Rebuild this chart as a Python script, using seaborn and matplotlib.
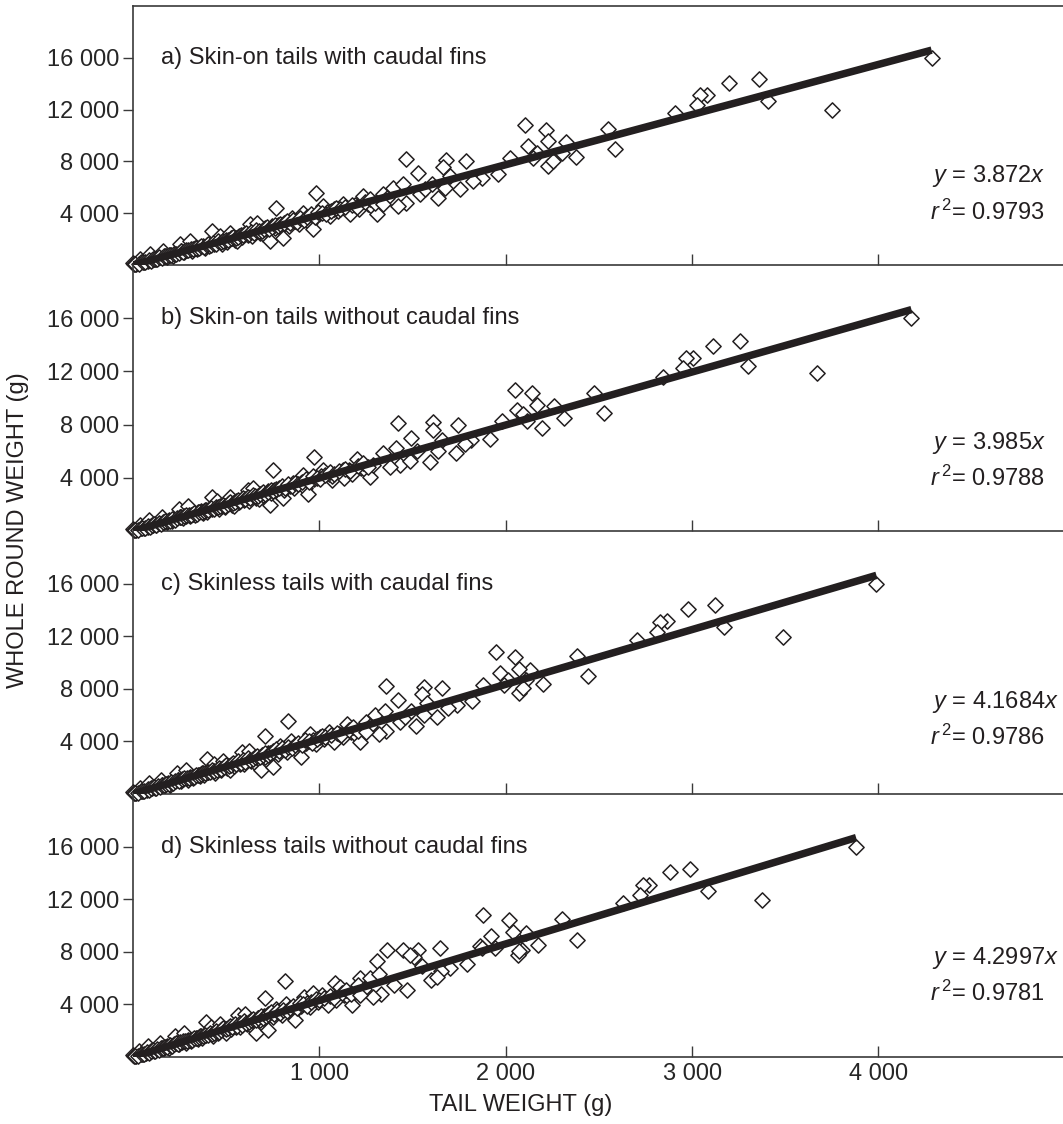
import numpy as np
import pandas as pd
import matplotlib
matplotlib.use("Agg")
import matplotlib.pyplot as plt
from matplotlib.ticker import FixedLocator, FuncFormatter
import seaborn as sns

# ---------------- data ----------------
panel_titles = ["a) Skin-on tails with caudal fins",
                "b) Skin-on tails without caudal fins",
                "c) Skinless tails with caudal fins",
                "d) Skinless tails without caudal fins"]
slopes = [3.872, 3.985, 4.1684, 4.2997]
slope_text = ["3.872", "3.985", "4.1684", "4.2997"]
r2_text = ["0.9793", "0.9788", "0.9786", "0.9781"]
x_ticks = [1000, 2000, 3000, 4000]
y_ticks = [4000, 8000, 12000, 16000]

# dense band near the origin (tail weight, whole weight)
low_a = [(0, 150), (15, 90), (25, 160), (38, 470), (45, 210), (60, 260), (70, 330), (80, 300), (91, 850),
         (100, 400), (110, 480), (125, 430), (135, 560), (150, 620), (161, 1090), (170, 700), (185, 650),
         (200, 800), (215, 720), (225, 900), (240, 1000), (252, 1630), (260, 1060), (275, 980), (290, 1150),
         (306, 1860), (315, 1100), (330, 1300), (345, 1200), (360, 1400), (375, 1480), (385, 1350),
         (400, 1560), (410, 1450), (424, 2640), (435, 1650), (450, 1750), (466, 2250), (475, 1620),
         (490, 1900), (505, 1800), (520, 2480), (530, 2100), (545, 1950), (557, 1860), (570, 2250),
         (585, 2150), (600, 2400), (615, 2300), (627, 3180), (640, 2250), (655, 2600), (665, 3260),
         (680, 2500), (697, 2400), (710, 2850), (720, 2700), (735, 1860), (745, 3000), (760, 2850),
         (767, 4420), (780, 3100), (795, 2950), (804, 2090), (820, 3300), (835, 3050), (853, 3640),
         (870, 3400), (890, 3200), (912, 4030), (930, 3600), (949, 3260), (965, 2790), (981, 5580),
         (1000, 3900), (1019, 4570), (1040, 4100), (1056, 3800), (1080, 4300), (1100, 4150),
         (1126, 4730), (1150, 4400), (1164, 3950), (1190, 4600), (1210, 4300), (1233, 5350),
         (1260, 4700), (1285, 4500), (1308, 3950), (1325, 5000), (1340, 5500)]
band_a = [(5, 40), (12, 60), (30, 110), (52, 240), (65, 220), (85, 360), (95, 330), (105, 440), (118, 500),
          (130, 470), (142, 600), (155, 560), (165, 660), (178, 720), (192, 780), (205, 760), (218, 880),
          (230, 860), (245, 960), (258, 1080), (268, 1020), (282, 1120), (296, 1180), (310, 1240),
          (322, 1200), (338, 1330), (352, 1300), (366, 1450), (380, 1420), (395, 1520), (405, 1600),
          (418, 1580), (430, 1700), (445, 1640), (458, 1820), (470, 1780), (483, 1850), (498, 1960),
          (510, 1900), (525, 2050), (538, 2200), (552, 2100), (565, 2180), (578, 2350), (592, 2280),
          (606, 2500), (620, 2380), (635, 2550), (648, 2450), (662, 2700), (676, 2600), (690, 2650),
          (705, 2780), (718, 2900), (732, 2800), (748, 2950), (762, 3100), (776, 3000), (790, 3150),
          (808, 3250), (826, 3400), (842, 3250), (860, 3500), (878, 3350), (895, 3600), (915, 3500),
          (935, 3700), (955, 3900), (975, 3700), (995, 4100), (1015, 4000), (1035, 3900), (1060, 4200),
          (1090, 4400), (1110, 4300), (1140, 4500), (1175, 4650), (1200, 4500), (1245, 4900),
          (1270, 5100), (1300, 4800)]
high_a = [(4285, 15970), (3750, 11950), (3405, 12650), (3360, 14400), (3200, 14050), (3078, 13100),
          (3040, 13100), (3024, 12330), (2906, 11700), (2547, 10470), (2584, 8990), (2375, 8370),
          (2322, 9460), (2300, 8680), (2225, 7670), (2252, 8060), (2214, 10390), (2225, 9540),
          (2102, 10780), (2118, 9220), (2166, 8680), (2145, 8300), (2021, 8300), (1957, 7050),
          (1871, 6740), (1823, 6510), (1786, 8060), (1753, 5890), (1678, 8140), (1662, 7600),
          (1700, 6900), (1673, 5970), (1635, 5190), (1528, 7130), (1464, 8220), (1394, 5970),
          (1448, 6280), (1464, 4810), (1421, 4570), (1539, 5500), (1566, 5890), (1603, 6280),
          (1362, 5190), (1340, 4730)]

low_b = [(0, 150), (15, 90), (25, 160), (37, 470), (45, 210), (58, 260), (68, 330), (78, 300), (88, 850),
         (97, 400), (107, 480), (121, 430), (131, 560), (146, 620), (157, 1090), (165, 700), (180, 650),
         (194, 800), (209, 720), (219, 900), (233, 1000), (245, 1630), (253, 1060), (267, 980), (282, 1150),
         (297, 1860), (306, 1100), (321, 1300), (335, 1200), (350, 1400), (364, 1480), (374, 1350),
         (389, 1560), (398, 1450), (424, 2540), (423, 1650), (437, 1750), (453, 2250), (462, 1620),
         (476, 1900), (491, 1800), (520, 2540), (515, 2100), (530, 1950), (541, 1860), (554, 2250),
         (568, 2150), (583, 2400), (598, 2300), (617, 3060), (622, 2250), (637, 2600), (646, 3260),
         (661, 2500), (677, 2400), (690, 2850), (700, 2700), (735, 1940), (724, 3000), (738, 2850),
         (751, 4550), (758, 3100), (772, 2950), (804, 2460), (797, 3300), (811, 3050), (858, 3580),
         (845, 3400), (865, 3200), (912, 4180), (904, 3600), (922, 3260), (938, 2790), (970, 5600),
         (972, 3900), (1019, 4550), (1011, 4100), (1067, 3810), (1050, 4300), (1069, 4150),
         (1126, 4550), (1118, 4400), (1131, 3950), (1157, 4600), (1176, 4300), (1201, 5450),
         (1225, 4700), (1249, 4500), (1271, 4030), (1288, 5000), (1340, 5900)]
band_b = [(5, 40), (12, 60), (29, 110), (50, 240), (63, 220), (82, 360), (92, 330), (102, 440), (114, 500),
          (126, 470), (138, 600), (150, 560), (160, 660), (173, 720), (186, 780), (199, 760), (211, 880),
          (223, 860), (238, 960), (250, 1080), (260, 1020), (274, 1120), (287, 1180), (301, 1240),
          (312, 1200), (328, 1330), (341, 1300), (355, 1450), (369, 1420), (383, 1520), (393, 1600),
          (405, 1580), (417, 1700), (432, 1640), (444, 1820), (456, 1780), (469, 1850), (483, 1960),
          (495, 1900), (509, 2050), (522, 2200), (535, 2100), (548, 2180), (561, 2350), (574, 2280),
          (588, 2500), (601, 2380), (616, 2550), (629, 2450), (642, 2700), (656, 2600), (669, 2650),
          (684, 2780), (696, 2900), (710, 2800), (726, 2950), (739, 3100), (753, 3000), (766, 3150),
          (784, 3250), (801, 3400), (817, 3250), (834, 3500), (852, 3350), (868, 3600), (888, 3500),
          (907, 3700), (926, 3900), (946, 3700), (965, 4100), (985, 4000), (1004, 3900), (1028, 4200),
          (1057, 4400), (1077, 4300), (1106, 4500), (1140, 4650), (1164, 4500), (1208, 4900),
          (1232, 5100), (1261, 4800)]
high_b = [(4177, 16000), (3668, 11870), (3298, 12390), (3255, 14250), (3110, 13880), (3003, 12990),
          (2965, 12990), (2949, 12240), (2842, 11570), (2472, 10370), (2525, 8880), (2311, 8510),
          (2257, 9400), (2193, 7760), (2166, 9480), (2139, 10370), (2048, 10600), (2059, 9100),
          (2091, 8810), (2113, 8280), (1979, 8280), (1914, 6940), (1812, 6870), (1780, 6570),
          (1743, 7990), (1732, 5900), (1609, 8210), (1609, 7610), (1657, 6870), (1635, 6040),
          (1592, 5220), (1490, 7010), (1421, 8130), (1410, 6270), (1432, 4930), (1378, 4780),
          (1523, 6040), (1485, 5300)]

low_c = [(0, 150), (14, 90), (23, 160), (35, 470), (42, 210), (56, 260), (65, 330), (74, 300), (85, 850),
         (93, 400), (102, 480), (116, 430), (126, 560), (140, 620), (150, 1090), (158, 700), (172, 650),
         (186, 800), (200, 720), (209, 900), (223, 1000), (235, 1630), (242, 1060), (256, 980), (270, 1150),
         (285, 1860), (293, 1100), (307, 1300), (321, 1200), (335, 1400), (349, 1480), (358, 1350),
         (372, 1560), (381, 1450), (395, 2640), (405, 1650), (419, 1750), (435, 2250), (442, 1620),
         (456, 1900), (470, 1800), (485, 2480), (493, 2100), (507, 1950), (520, 1860), (530, 2250),
         (544, 2150), (558, 2400), (572, 2300), (585, 3180), (595, 2250), (609, 2600), (620, 3260),
         (632, 2500), (650, 2400), (660, 2850), (670, 2700), (685, 1860), (693, 3000), (707, 2850),
         (710, 4420), (725, 3100), (739, 2950), (750, 2090), (763, 3300), (777, 3050), (790, 3640),
         (809, 3400), (828, 3200), (850, 4030), (865, 3600), (880, 3260), (900, 2790), (830, 5580),
         (930, 3900), (950, 4570), (967, 4100), (980, 3800), (1004, 4300), (1023, 4150),
         (1050, 4730), (1070, 4400), (1080, 3950), (1107, 4600), (1125, 4300), (1150, 5350),
         (1172, 4700), (1195, 4500), (1220, 3950), (1232, 5000), (1250, 5500)]
band_c = [(5, 40), (11, 60), (28, 110), (48, 240), (60, 220), (79, 360), (88, 330), (98, 440), (110, 500),
          (121, 470), (132, 600), (144, 560), (153, 660), (166, 720), (179, 780), (191, 760), (203, 880),
          (214, 860), (228, 960), (240, 1080), (249, 1020), (262, 1120), (275, 1180), (288, 1240),
          (299, 1200), (314, 1330), (327, 1300), (340, 1450), (353, 1420), (367, 1520), (377, 1600),
          (389, 1580), (400, 1700), (414, 1640), (426, 1820), (437, 1780), (449, 1850), (463, 1960),
          (474, 1900), (488, 2050), (500, 2200), (513, 2100), (525, 2180), (538, 2350), (551, 2280),
          (564, 2500), (577, 2380), (591, 2550), (603, 2450), (616, 2700), (629, 2600), (642, 2650),
          (656, 2780), (668, 2900), (681, 2800), (696, 2950), (709, 3100), (722, 3000), (735, 3150),
          (751, 3250), (768, 3400), (783, 3250), (800, 3500), (817, 3350), (832, 3600), (851, 3500),
          (870, 3700), (888, 3900), (907, 3700), (925, 4100), (944, 4000), (963, 3900), (986, 4200),
          (1014, 4400), (1032, 4300), (1060, 4500), (1093, 4650), (1116, 4500), (1158, 4900),
          (1181, 5100), (1209, 4800)]
high_c = [(3989, 15970), (3490, 11950), (3170, 12680), (3125, 14400), (2976, 14050), (2863, 13150),
          (2827, 13100), (2812, 12350), (2703, 11700), (2380, 10470), (2440, 8990), (2200, 8370),
          (2130, 9460), (2110, 8680), (2070, 7670), (2090, 8060), (2050, 10390), (2070, 9540),
          (1950, 10780), (1970, 9220), (2010, 8680), (1990, 8300), (1880, 8300), (1820, 7050),
          (1740, 6740), (1690, 6510), (1660, 8060), (1630, 5890), (1560, 8140), (1550, 7600),
          (1580, 6900), (1560, 5970), (1520, 5190), (1420, 7130), (1360, 8220), (1300, 5970),
          (1350, 6280), (1360, 4810), (1320, 4570), (1430, 5500), (1460, 5890), (1490, 6280),
          (1270, 5190), (1250, 4730)]

low_d = [(0, 150), (14, 90), (22, 160), (34, 470), (41, 210), (54, 260), (63, 330), (72, 300), (82, 850),
         (90, 400), (99, 480), (113, 430), (122, 560), (135, 620), (145, 1090), (153, 700), (167, 650),
         (180, 800), (194, 720), (203, 900), (216, 1000), (227, 1630), (234, 1060), (248, 980), (261, 1150),
         (276, 1860), (284, 1100), (297, 1300), (311, 1200), (324, 1400), (338, 1480), (347, 1350),
         (360, 1560), (369, 1450), (391, 2690), (392, 1650), (405, 1750), (420, 2250), (428, 1620),
         (441, 1900), (455, 1800), (468, 2480), (477, 2100), (491, 1950), (501, 1860), (513, 2250),
         (527, 2150), (540, 2400), (554, 2300), (565, 3180), (576, 2250), (590, 2600), (600, 3260),
         (612, 2500), (627, 2400), (639, 2850), (648, 2700), (662, 1860), (671, 3000), (684, 2850),
         (708, 4460), (702, 3100), (716, 2950), (724, 2090), (738, 3300), (752, 3050), (768, 3640),
         (783, 3400), (801, 3200), (821, 4030), (837, 3600), (854, 3260), (869, 2790), (815, 5770),
         (900, 3900), (917, 4570), (936, 4100), (950, 3800), (965, 4850), (990, 4150),
         (1013, 4730), (1035, 4400), (1048, 3950), (1083, 5620), (1090, 4300), (1110, 5350),
         (1134, 4700), (1157, 4500), (1177, 3950), (1217, 6000), (1206, 5500)]
band_d = [(5, 40), (11, 60), (27, 110), (47, 240), (59, 220), (77, 360), (86, 330), (95, 440), (106, 500),
          (117, 470), (128, 600), (140, 560), (149, 660), (160, 720), (173, 780), (185, 760), (196, 880),
          (207, 860), (221, 960), (232, 1080), (241, 1020), (254, 1120), (266, 1180), (279, 1240),
          (290, 1200), (304, 1330), (317, 1300), (329, 1450), (342, 1420), (356, 1520), (365, 1600),
          (376, 1580), (387, 1700), (401, 1640), (412, 1820), (423, 1780), (435, 1850), (448, 1960),
          (459, 1900), (473, 2050), (484, 2200), (497, 2100), (509, 2180), (520, 2350), (533, 2280),
          (545, 2500), (558, 2380), (572, 2550), (583, 2450), (596, 2700), (608, 2600), (621, 2650),
          (635, 2780), (646, 2900), (659, 2800), (673, 2950), (686, 3100), (698, 3000), (711, 3150),
          (727, 3250), (743, 3400), (758, 3250), (774, 3500), (790, 3350), (806, 3600), (824, 3500),
          (842, 3700), (860, 3900), (878, 3700), (896, 4100), (914, 4000), (932, 3900), (954, 4200),
          (981, 4400), (999, 4300), (1026, 4500), (1058, 4650), (1080, 4500), (1121, 4900),
          (1143, 5100), (1170, 4800)]
high_d = [(3880, 15970), (3375, 11950), (3085, 12650), (2990, 14300), (2880, 14050), (2770, 13100),
          (2736, 13050), (2722, 12330), (2630, 11700), (2380, 8920), (2300, 10470), (2172, 8540),
          (2110, 9460), (2086, 8150), (2064, 7770), (2070, 8060), (2020, 10390), (2040, 9540),
          (1880, 10780), (1920, 9220), (1861, 8460), (1940, 8300), (1870, 8300), (1790, 7050),
          (1700, 6740), (1650, 6510), (1646, 8310), (1600, 5890), (1530, 8140), (1510, 7600),
          (1550, 6900), (1630, 6080), (1469, 5080), (1308, 7310), (1362, 8150), (1270, 5970),
          (1320, 6280), (1330, 4810), (1290, 4570), (1400, 5500), (1448, 8150), (1485, 7770),
          (1240, 5190), (1220, 4730)]

panel_points = [low_a + band_a + high_a, low_b + band_b + high_b,
                low_c + band_c + high_c, low_d + band_d + high_d]

# ---------------- style ----------------
sns.set_theme(style="ticks")
plt.rcParams["font.family"] = ["Liberation Sans", "DejaVu Sans"]
plt.rcParams["mathtext.fontset"] = "custom"
plt.rcParams["mathtext.rm"] = "Liberation Sans"
plt.rcParams["mathtext.it"] = "Liberation Sans:italic"

W, H = 1063, 1124
fig = plt.figure(figsize=(W / 100, H / 100), dpi=100)
ink = "#231f20"
axis_col = "#3a3a3a"
fs = 17

bounds = [(6, 265), (265, 531), (531, 794), (794, 1057)]
left_px, right_px = 133, 1063
eq_pos = [(176, 212), (443, 478), (702, 737), (958, 993)]

fmt = FuncFormatter(lambda v, p: f"{int(v):,}".replace(",", " "))

for i, (top, bot) in enumerate(bounds):
    ax = fig.add_axes([left_px / W, 1 - bot / H, (right_px - left_px) / W, (bot - top) / H])
    pts = panel_points[i]
    df = pd.DataFrame(pts, columns=["tail", "whole"])
    sns.scatterplot(data=df, x="tail", y="whole", marker="D", s=60, color="white",
                    edgecolor=ink, linewidth=1.1, ax=ax, clip_on=False, zorder=3)
    xmax = df["tail"].max()
    line_df = pd.DataFrame({"tail": [0, xmax], "whole": [0, slopes[i] * xmax]})
    sns.lineplot(data=line_df, x="tail", y="whole", color=ink, linewidth=5.4, ax=ax,
                 zorder=4, solid_capstyle="butt")
    ax.set_xlim(0, 4990)
    ax.set_ylim(0, 20000)
    ax.xaxis.set_major_locator(FixedLocator(x_ticks))
    ax.yaxis.set_major_locator(FixedLocator(y_ticks))
    ax.yaxis.set_major_formatter(fmt)
    ax.xaxis.set_major_formatter(fmt)
    ax.tick_params(axis="x", direction="in", length=8, width=1.0, color=axis_col,
                   labelsize=fs, pad=4, labelbottom=(i == 3))
    ax.tick_params(axis="y", direction="out", length=7, width=1.0, color=axis_col,
                   labelsize=fs, pad=3)
    for sp in ["left", "bottom", "top"]:
        ax.spines[sp].set_color(axis_col)
        ax.spines[sp].set_linewidth(1.2)
    ax.spines["right"].set_visible(False)
    ax.spines["top"].set_visible(i == 0)
    ax.set_xlabel("")
    ax.set_ylabel("")
    ax.set_facecolor("none")
    ax.text(150, 16000, panel_titles[i], fontsize=fs, color=ink, va="center", ha="left")
    ey, ry = eq_pos[i]
    fig.text(932 / W, 1 - ey / H, r"$\mathit{y}$ = " + slope_text[i] + r"$\mathit{x}$",
             fontsize=fs, color=ink, ha="left", va="center")
    fig.text(930 / W, 1 - ry / H, r"$\mathit{r}^{\,2}$= " + r2_text[i],
             fontsize=fs, color=ink, ha="left", va="center")

fig.text(18 / W, 1 - 530 / H, "WHOLE ROUND WEIGHT (g)", rotation=90, fontsize=fs,
         color=ink, ha="center", va="center")
fig.text(521 / W, 1 - 1105 / H, "TAIL WEIGHT (g)", fontsize=fs, color=ink,
         ha="center", va="center")

fig.savefig("out.png", dpi=100)
